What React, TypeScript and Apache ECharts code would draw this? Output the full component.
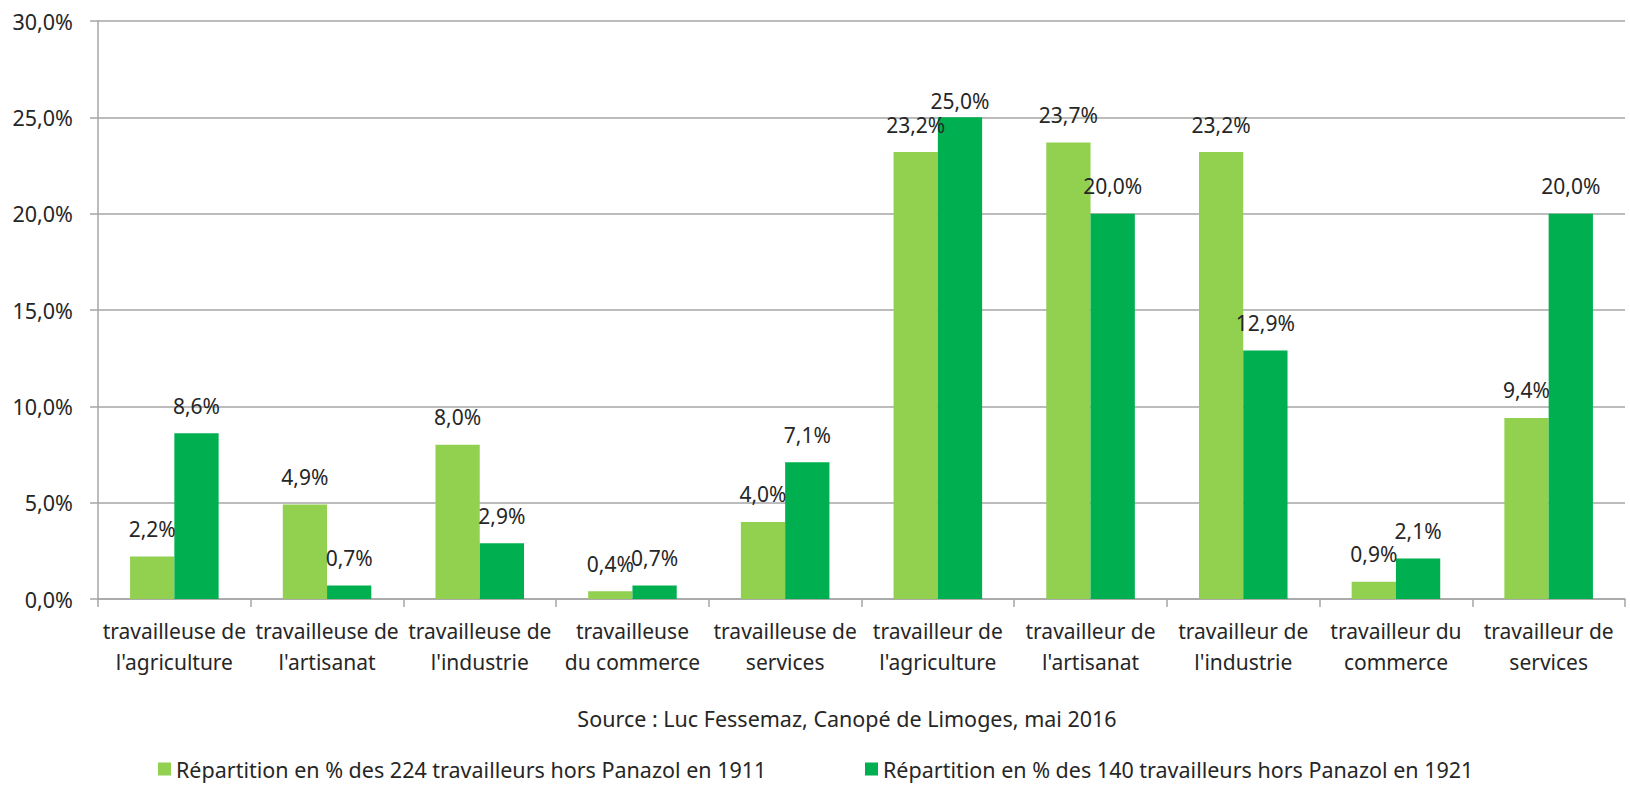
import React, { useEffect, useRef } from "react";
import * as echarts from "echarts";

const categories = [
  "travailleuse de\nl'agriculture",
  "travailleuse de\nl'artisanat",
  "travailleuse de\nl'industrie",
  "travailleuse\ndu commerce",
  "travailleuse de\nservices",
  "travailleur de\nl'agriculture",
  "travailleur de\nl'artisanat",
  "travailleur de\nl'industrie",
  "travailleur du\ncommerce",
  "travailleur de\nservices",
];
const series1911 = [2.2, 4.9, 8.0, 0.4, 4.0, 23.2, 23.7, 23.2, 0.9, 9.4];
const series1921 = [8.6, 0.7, 2.9, 0.7, 7.1, 25.0, 20.0, 12.9, 2.1, 20.0];
const name1911 = "Répartition en % des 224 travailleurs hors Panazol en 1911";
const name1921 = "Répartition en % des 140 travailleurs hors Panazol en 1921";
const sourceText = "Source : Luc Fessemaz, Canopé de Limoges, mai 2016";

const FONT = "'Noto Sans', sans-serif";
const TXT = "#262626";
const fmt = (v: number) => v.toFixed(1).replace(".", ",") + "%";

export default function App() {
  const ref = useRef<HTMLDivElement>(null);
  useEffect(() => {
    if (!ref.current) return;
    const chart = echarts.init(ref.current, undefined, { renderer: "svg" });
    const label = {
      show: true,
      position: "top" as const,
      distance: 17,
      color: TXT,
      fontSize: 21,
      fontFamily: FONT,
      formatter: (p: any) => fmt(p.value),
    };
    const legendBase = {
      top: 757,
      padding: 0,
      icon: "rect",
      itemWidth: 13,
      itemHeight: 13,
      itemGap: 0,
      textStyle: { fontSize: 21.5, lineHeight: 24, color: TXT, fontFamily: FONT },
    };
    // the 25,0% label sits closer to its bar in the reference (collision shift)
    const data1921 = series1921.map((v, i) =>
      i === 5 ? { value: v, label: { distance: 6 } } : v
    );
    chart.setOption({
      animation: false,
      backgroundColor: "#ffffff",
      grid: { left: 98, right: 5, top: 21, bottom: 186, containLabel: false },
      graphic: [
        {
          type: "text",
          x: 847,
          y: 718,
          style: {
            text: sourceText,
            fill: TXT,
            font: `21.5px ${FONT}`,
            textAlign: "center",
            textVerticalAlign: "middle",
          },
        },
      ],
      legend: [
        { ...legendBase, data: [name1911], left: 158 },
        { ...legendBase, data: [name1921], left: 865 },
      ],
      xAxis: {
        type: "category",
        data: categories,
        axisLine: { lineStyle: { color: "#a6a6a6", width: 1.5 } },
        axisTick: { show: true, length: 8, lineStyle: { color: "#a6a6a6", width: 1.5 } },
        axisLabel: {
          interval: 0,
          margin: 16,
          fontSize: 21,
          lineHeight: 31,
          color: TXT,
          fontFamily: FONT,
        },
      },
      yAxis: {
        type: "value",
        min: 0,
        max: 30,
        interval: 5,
        axisLine: { show: true, lineStyle: { color: "#a6a6a6", width: 1.5 } },
        axisTick: { show: true, inside: false, length: 8, lineStyle: { color: "#a6a6a6", width: 1.5 } },
        splitLine: { lineStyle: { color: "#a6a6a6", width: 1.5 } },
        axisLabel: {
          margin: 25,
          fontSize: 21.5,
          color: TXT,
          fontFamily: FONT,
          formatter: (v: number) => fmt(v),
        },
      },
      series: [
        {
          name: name1911,
          type: "bar",
          data: series1911,
          itemStyle: { color: "#92D050" },
          barGap: "0%",
          barCategoryGap: "42%",
          label,
        },
        {
          name: name1921,
          type: "bar",
          data: data1921,
          itemStyle: { color: "#00B050" },
          barGap: "0%",
          barCategoryGap: "42%",
          label,
        },
      ],
    });
    return () => chart.dispose();
  }, []);
  return (
    <div
      ref={ref}
      style={{ position: "absolute", left: 0, top: 0, width: 1630, height: 785 }}
    />
  );
}
